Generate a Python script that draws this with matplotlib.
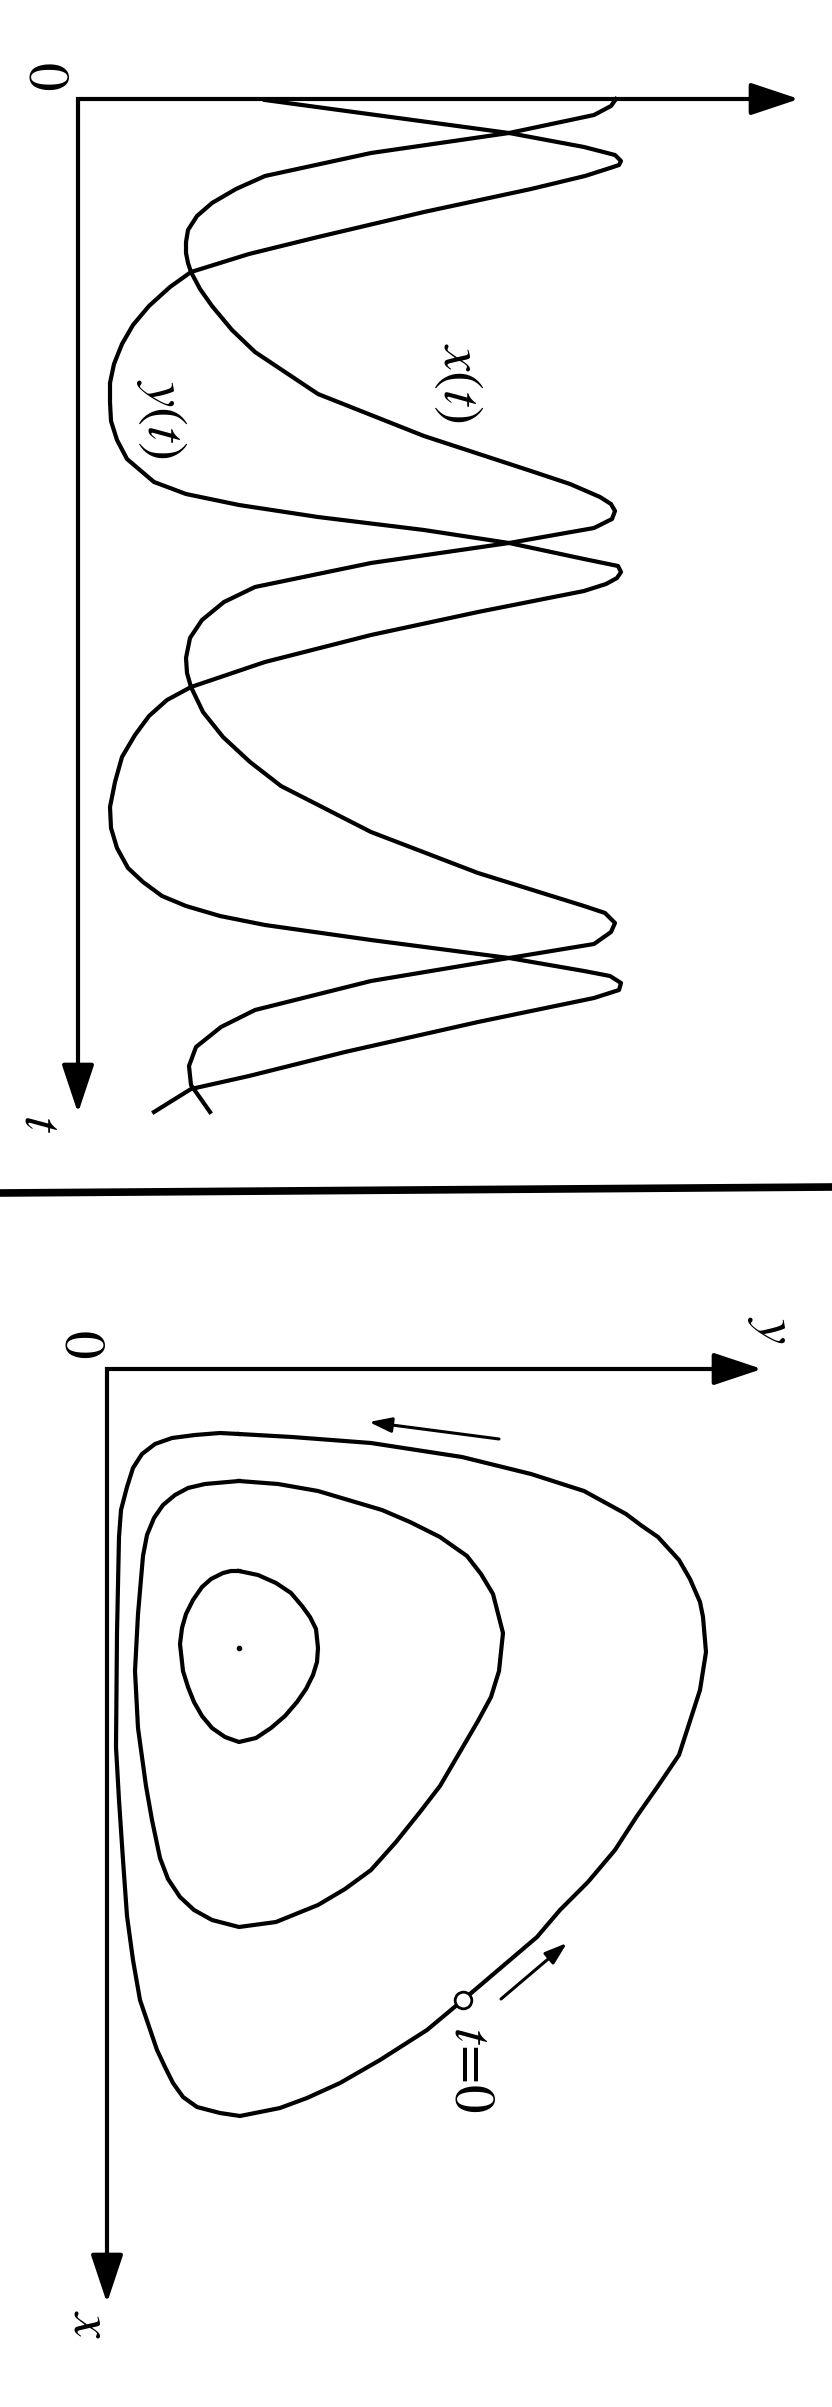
import matplotlib
matplotlib.use('Agg')
import matplotlib.pyplot as plt
from matplotlib.lines import Line2D

plt.rcParams['mathtext.fontset'] = 'stix'
plt.rcParams['font.family'] = ['STIXGeneral', 'DejaVu Serif']

# --- time series (top panel) ---
# y(t): predator
t_y = [0.1, 3.4, 4.8, 5.6, 6.2, 6.6, 6.9, 7.7, 9.0, 11.3, 13.8, 15.5, 17.3, 18.8, 20.7,
       22.6, 24.5, 26.5, 28.4, 30.3, 32.2, 34.1, 36.0, 38.3, 39.5, 40.6, 41.8, 43.1,
       44.4, 46.0, 46.7, 47.3, 47.9, 48.5, 49.2, 51.3, 53.6, 56.3, 58.8, 60.1, 61.7,
       63.6, 65.8, 68.3, 70.8, 72.9, 74.9, 76.9, 78.3, 79.7, 80.7, 81.7, 82.6, 84.1,
       85.9, 87.2, 87.7, 88.4, 89.1, 89.9, 92.3, 95.3, 97.7, 99.0, 101.3]
y_t = [18.7, 43.1, 50.6, 53.7, 54.3, 54.1, 53.2, 50.7, 45.3, 34.6, 24.0, 17.1, 11.3, 9.2, 7.1,
       5.5, 4.4, 3.6, 3.2, 3.2, 3.3, 3.9, 4.9, 7.6, 10.8, 16.1, 24.0, 34.6,
       43.1, 50.6, 54.0, 54.3, 53.9, 52.8, 50.6, 40.0, 29.3, 18.7, 11.3, 8.9, 7.1,
       5.7, 4.4, 3.7, 3.2, 3.3, 3.9, 5.0, 6.5, 8.4, 10.8, 14.2, 18.7, 29.3,
       43.1, 50.6, 53.2, 54.3, 54.1, 51.6, 40.0, 26.7, 17.1, 11.3, 7.6]
# x(t): prey
t_x = [0.0, 0.7, 1.6, 3.4, 5.4, 7.7, 9.0, 10.4, 11.7, 13.1, 14.3, 15.4, 16.4, 17.3, 19.0,
       20.7, 23.1, 25.3, 29.5, 33.7, 37.2, 38.5, 39.8, 40.5, 41.2, 42.0, 42.9, 44.4,
       46.4, 48.8, 50.3, 52.1, 53.9, 55.9, 57.4, 58.8, 61.3, 63.8, 66.3, 68.7, 73.3,
       77.4, 80.7, 81.4, 82.4, 83.3, 84.5, 85.9, 88.2, 91.1, 92.8, 94.8, 96.7, 98.6, 101.3]
x_t = [53.8, 53.3, 51.6, 43.1, 29.3, 18.7, 15.8, 13.4, 11.9, 11.0, 10.8, 10.8, 11.0, 11.3, 12.2,
       13.4, 15.4, 17.7, 24.0, 34.6, 45.3, 49.2, 52.2, 53.3, 53.7, 53.4, 51.6, 43.1,
       29.3, 17.7, 14.6, 12.4, 11.2, 10.8, 10.9, 11.3, 12.5, 14.5, 17.2, 20.3, 29.3,
       40.0, 50.6, 52.7, 53.7, 53.3, 51.6, 43.1, 29.3, 17.7, 14.3, 11.8, 11.1, 11.3, 13.2]
t_max, p_max = 101.4, 72.1

# --- phase portrait (bottom panel): (y, x) pairs on three closed orbits ---
inner_y = [1.32, 1.51, 1.69, 1.84, 1.95, 2.03, 2.09, 2.11, 2.10, 2.06, 1.99, 1.90, 1.78, 1.64,
           1.49, 1.32, 1.18, 1.05, 0.95, 0.87, 0.81, 0.76, 0.73, 0.75, 0.79, 0.86, 0.95, 1.04,
           1.16, 1.24]
inner_x = [2.02, 2.06, 2.14, 2.24, 2.37, 2.48, 2.60, 2.79, 2.93, 3.06, 3.20, 3.33, 3.47, 3.59,
           3.69, 3.73, 3.68, 3.59, 3.47, 3.33, 3.18, 3.02, 2.75, 2.59, 2.45, 2.31, 2.18, 2.10,
           2.04, 2.02]
mid_y = [1.32, 1.71, 2.11, 2.75, 3.03, 3.33, 3.60, 3.74, 3.86, 3.96, 3.92, 3.84, 3.71, 3.33,
         3.13, 2.89, 2.64, 2.38, 2.11, 1.69, 1.32, 1.05, 0.87, 0.73, 0.61, 0.53, 0.45, 0.39,
         0.31, 0.28, 0.31, 0.36, 0.40, 0.47, 0.56, 0.68, 0.81, 0.98]
mid_x = [1.12, 1.15, 1.22, 1.41, 1.53, 1.68, 1.87, 2.05, 2.25, 2.64, 3.02, 3.28, 3.52, 4.17,
         4.43, 4.73, 5.01, 5.20, 5.36, 5.53, 5.58, 5.51, 5.41, 5.28, 5.10, 4.89, 4.51, 4.17,
         3.59, 3.02, 2.45, 1.87, 1.66, 1.49, 1.36, 1.26, 1.19, 1.15]
outer_y = [1.32, 1.85, 2.64, 3.55, 4.24, 4.77, 5.19, 5.35, 5.51, 5.72, 5.83, 5.93, 5.96, 5.99,
           5.93, 5.83, 5.72, 5.51, 5.30, 5.08, 4.81, 4.53, 4.30, 4.03, 3.56, 3.20, 2.73, 2.33,
           2.00, 1.73, 1.33, 1.13, 0.90, 0.76, 0.66, 0.58, 0.50, 0.33, 0.26, 0.20, 0.16, 0.12,
           0.09, 0.10, 0.12, 0.14, 0.20, 0.26, 0.35, 0.48, 0.65, 0.88, 1.13]
outer_x = [0.65, 0.68, 0.74, 0.88, 1.05, 1.22, 1.45, 1.57, 1.68, 1.91, 2.10, 2.33, 2.48, 2.83,
           3.21, 3.52, 3.86, 4.17, 4.47, 4.81, 5.13, 5.41, 5.68, 5.91, 6.31, 6.61, 6.91, 7.14,
           7.29, 7.39, 7.47, 7.44, 7.38, 7.28, 7.14, 6.98, 6.81, 6.31, 5.91, 5.47, 4.91, 4.31,
           3.78, 2.64, 1.68, 1.41, 1.18, 0.99, 0.85, 0.75, 0.69, 0.66, 0.64]
eq_y, eq_x = 1.32, 2.79          # equilibrium point
start_y, start_x = 3.56, 6.31    # t = 0
x_max, y_max = 9.34, 6.55

LW = 3.0
HEAD = dict(arrowstyle='-|>,head_length=1.5,head_width=0.5', color='k', lw=LW,
            mutation_scale=20, shrinkA=0, shrinkB=0)
SMALL = dict(arrowstyle='-|>,head_length=0.9,head_width=0.3', color='k', lw=2.2,
             mutation_scale=15, shrinkA=0, shrinkB=0)
FS = 41

fig = plt.figure(figsize=(8.32, 24.07), dpi=100)

# top: time series, drawn rotated (t runs down the page)
ax1 = fig.add_axes([0, 1 - 1190 / 2407, 1, 1190 / 2407])
ax1.set_xlim(-7.8, 75.4)
ax1.set_ylim(109.1, -9.9)
ax1.axis('off')
ax1.plot([p_max - 4, 0, 0], [0, 0, t_max - 3], color='k', lw=LW, solid_joinstyle='miter')
ax1.annotate('', xy=(p_max, 0), xytext=(p_max - 5, 0), arrowprops=HEAD)
ax1.annotate('', xy=(0, t_max), xytext=(0, t_max - 5), arrowprops=HEAD)
ax1.plot(y_t, t_y, color='k', lw=LW, solid_joinstyle='round')
ax1.plot(x_t, t_x, color='k', lw=LW, solid_joinstyle='round')
ax1.text(-3.6, -2.2, '0', fontsize=FS, rotation=-90, ha='center', va='center')
ax1.text(-3.9, 102.4, '$t$', fontsize=FS, rotation=-90, ha='center', va='center')
ax1.text(8.4, 32.0, '$y(t)$', fontsize=FS, rotation=-90, ha='center', va='center')
ax1.text(38.1, 28.4, '$x(t)$', fontsize=FS, rotation=-90, ha='center', va='center')

# page gutter from the scan
fig.add_artist(Line2D([0, 1], [1 - 1193 / 2407, 1 - 1187 / 2407],
                      transform=fig.transFigure, color='k', lw=5.5))

# bottom: phase plane, x down the page, y to the right
ax2 = fig.add_axes([0, 0, 1, 1207 / 2407])
ax2.set_xlim(-1.07, 7.25)
ax2.set_ylim(10.38, -1.69)
ax2.axis('off')
ax2.plot([y_max - 0.3, 0, 0], [0, 0, x_max - 0.3], color='k', lw=LW, solid_joinstyle='miter')
ax2.annotate('', xy=(y_max, 0), xytext=(y_max - 0.5, 0), arrowprops=HEAD)
ax2.annotate('', xy=(0, x_max), xytext=(0, x_max - 0.5), arrowprops=HEAD)
for oy, ox in [(inner_y, inner_x), (mid_y, mid_x), (outer_y, outer_x)]:
    ax2.plot(oy + oy[:1], ox + ox[:1], color='k', lw=LW, solid_joinstyle='round')
ax2.plot(eq_y, eq_x, 'o', color='k', ms=3)
ax2.plot(start_y, start_x, 'o', mfc='white', mec='k', mew=2, ms=12, zorder=5)
ax2.annotate('', xy=(2.62, 0.53), xytext=(3.92, 0.70), arrowprops=SMALL)
ax2.annotate('', xy=(4.60, 5.74), xytext=(3.94, 6.30), arrowprops=SMALL)
ax2.text(-0.29, -0.24, '0', fontsize=FS, rotation=-90, ha='center', va='center')
ax2.text(6.63, -0.39, '$y$', fontsize=FS, rotation=-90, ha='center', va='center')
ax2.text(-0.19, 9.56, '$x$', fontsize=FS, rotation=-90, ha='center', va='center')
ax2.text(3.62, 7.00, r'$t\!=\!0$', fontsize=FS, rotation=-90, ha='center', va='center')

fig.savefig('out.png', dpi=100, facecolor='white')
